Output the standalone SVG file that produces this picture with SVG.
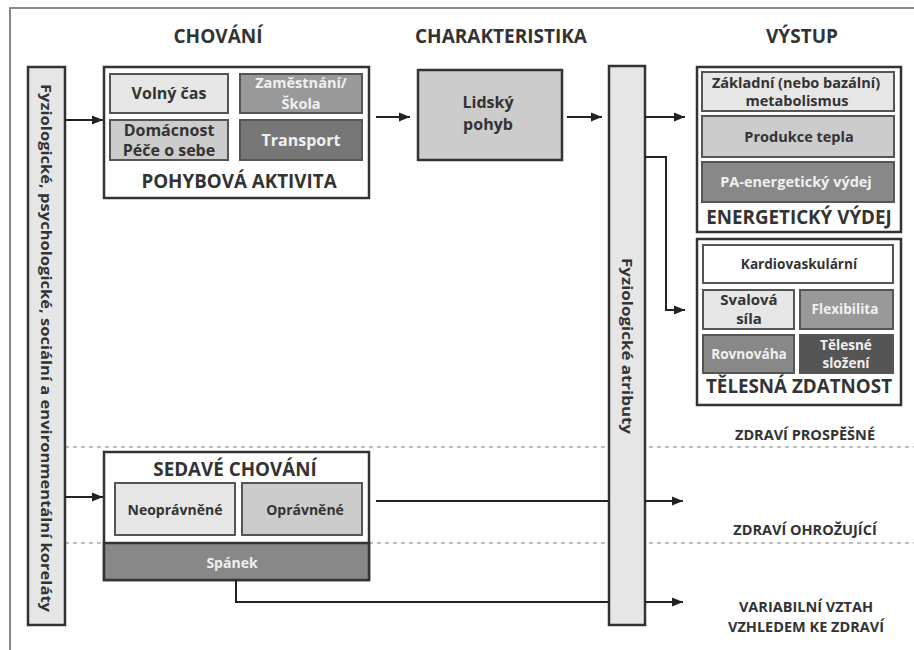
<svg xmlns="http://www.w3.org/2000/svg" width="914" height="650" viewBox="0 0 914 650">
<defs>
<marker id="ah" markerUnits="userSpaceOnUse" markerWidth="12" markerHeight="10" refX="11" refY="5" orient="auto">
<path d="M0,0.5 L11,5 L0,9.5 z" fill="#222"/>
</marker>
<style>
text{font-family:"Open Sans","Liberation Sans",sans-serif;font-weight:bold;fill:#333;text-anchor:middle}
.hdr{font-size:19px}
.ttl{font-size:18.8px}
.lbl{font-size:16px}
.ev{font-size:14.5px}
.tz{font-size:13.6px}
.sd{font-size:14px}
.out{font-size:14.5px}
.wt{fill:#f0f0f0}
.box{stroke:#333;stroke-width:2.5}
.in{stroke:#555;stroke-width:2}
.con{fill:none;stroke:#222;stroke-width:2}
.dot{stroke:#aaa;stroke-width:1.3;stroke-dasharray:4 4;fill:none}
</style>
</defs>
<rect width="914" height="650" fill="#fff"/>
<g id="frame" fill="none" stroke="#888" stroke-width="2">
<path d="M10,650 L10,8 L914,8"/>
</g>
<g id="dividers">
<line class="dot" x1="65" y1="447" x2="914" y2="447"/>
<line class="dot" x1="65" y1="543" x2="914" y2="543"/>
</g>
<g id="headers">
<text class="hdr" x="218" y="43">CHOVÁNÍ</text>
<text class="hdr" x="501" y="43">CHARAKTERISTIKA</text>
<text class="hdr" x="802" y="43">VÝSTUP</text>
</g>
<g id="korelaty">
<rect class="box" x="28" y="67" width="37" height="558" fill="#e6e6e6"/>
<text transform="rotate(90 46 348)" x="46" y="353" textLength="528" lengthAdjust="spacingAndGlyphs" style="font-size:14.5px">Fyziologické, psychologické, sociální a environmentální koreláty</text>
</g>
<g id="pohybova-aktivita">
<rect class="box" x="104" y="67" width="265" height="131" fill="#fff"/>
<rect class="in" x="110" y="74" width="118" height="39" fill="#e6e6e6"/>
<text class="lbl" x="169" y="99">Volný čas</text>
<rect class="in" x="240" y="74" width="122" height="39" fill="#999"/>
<text class="wt" x="301" y="88" style="font-size:14.5px">Zaměstnání/</text>
<text class="wt" x="301" y="109" style="font-size:14.5px">Škola</text>
<rect class="in" x="110" y="120" width="118" height="40" fill="#ccc"/>
<text class="lbl" x="169" y="136">Domácnost</text>
<text class="lbl" x="169" y="156">Péče o sebe</text>
<rect class="in" x="240" y="120" width="122" height="40" fill="#777"/>
<text class="lbl wt" x="301" y="146">Transport</text>
<text class="ttl" x="239" y="188">POHYBOVÁ AKTIVITA</text>
</g>
<g id="lidsky-pohyb">
<rect class="box" x="418" y="70" width="144" height="90" fill="#ccc"/>
<text class="lbl" x="488" y="108">Lidský</text>
<text class="lbl" x="488" y="130">pohyb</text>
</g>
<g id="fyziologicke-atributy">
<rect class="box" x="609" y="66" width="36" height="559" fill="#e6e6e6"/>
<text transform="rotate(90 627 346)" x="627" y="351" textLength="176" lengthAdjust="spacingAndGlyphs" style="font-size:14px">Fyziologické atributy</text>
</g>
<g id="energeticky-vydej">
<rect class="box" x="697" y="67" width="204" height="165" fill="#fff"/>
<rect class="in" x="702" y="72" width="192" height="39" fill="#e6e6e6"/>
<text class="ev" x="796" y="88">Základní (nebo bazální)</text>
<text class="ev" x="797" y="106">metabolismus</text>
<rect class="in" x="702" y="116" width="192" height="41" fill="#ccc"/>
<text class="ev" x="799" y="142">Produkce tepla</text>
<rect class="in" x="702" y="162" width="192" height="40" fill="#888"/>
<text class="ev wt" x="796" y="187">PA-energetický výdej</text>
<text class="ttl" x="799" y="224">ENERGETICKÝ VÝDEJ</text>
</g>
<g id="telesna-zdatnost">
<rect class="box" x="697" y="239" width="204" height="166" fill="#fff"/>
<rect class="in" x="703" y="245" width="190" height="38" fill="#fff"/>
<text class="tz" x="799" y="269">Kardiovaskulární</text>
<rect class="in" x="703" y="290" width="91" height="39" fill="#e6e6e6"/>
<text class="tz" x="749" y="305" style="font-size:15px">Svalová</text>
<text class="tz" x="749" y="324" style="font-size:15px">síla</text>
<rect class="in" x="800" y="290" width="93" height="39" fill="#999"/>
<text class="tz wt" x="845" y="314">Flexibilita</text>
<rect class="in" x="703" y="335" width="91" height="38" fill="#888"/>
<text class="tz wt" x="749" y="359">Rovnováha</text>
<rect class="in" x="800" y="335" width="93" height="38" fill="#555"/>
<text class="tz wt" x="846" y="350">Tělesné</text>
<text class="tz wt" x="846" y="368">složení</text>
<text class="ttl" x="799" y="393">TĚLESNÁ ZDATNOST</text>
</g>
<g id="sedave-chovani">
<rect class="box" x="104" y="452" width="265" height="128" fill="#fff"/>
<text class="ttl" x="235" y="476">SEDAVÉ CHOVÁNÍ</text>
<rect class="in" x="115" y="483" width="120" height="52" fill="#e6e6e6"/>
<text class="sd" x="175" y="515">Neoprávněné</text>
<rect class="in" x="242" y="483" width="120" height="52" fill="#ccc"/>
<text class="sd" x="305" y="515">Oprávněné</text>
<rect class="box" x="104" y="543" width="265" height="37" fill="#888"/>
<text class="sd wt" x="232" y="568">Spánek</text>
</g>
<g id="outcomes">
<text class="out" x="805" y="440">ZDRAVÍ PROSPĚŠNÉ</text>
<text class="out" x="805" y="535">ZDRAVÍ OHROŽUJÍCÍ</text>
<text class="out" x="806" y="612">VARIABILNÍ VZTAH</text>
<text class="out" x="806" y="632">VZHLEDEM KE ZDRAVÍ</text>
</g>
<g id="connectors">
<path class="con" d="M65,120 L103,120" marker-end="url(#ah)"/>
<path class="con" d="M65,497 L103,497" marker-end="url(#ah)"/>
<path class="con" d="M376,117 L410,117" marker-end="url(#ah)"/>
<path class="con" d="M567,117 L602,117" marker-end="url(#ah)"/>
<path class="con" d="M645,117 L685,117" marker-end="url(#ah)"/>
<path class="con" d="M645,157 L666,157 L666,310 L685,310" marker-end="url(#ah)"/>
<path class="con" d="M376,501 L609,501"/>
<path class="con" d="M645,501 L683,501" marker-end="url(#ah)"/>
<path class="con" d="M236,580 L236,602 L609,602"/>
<path class="con" d="M645,602 L683,602" marker-end="url(#ah)"/>
</g>
</svg>
